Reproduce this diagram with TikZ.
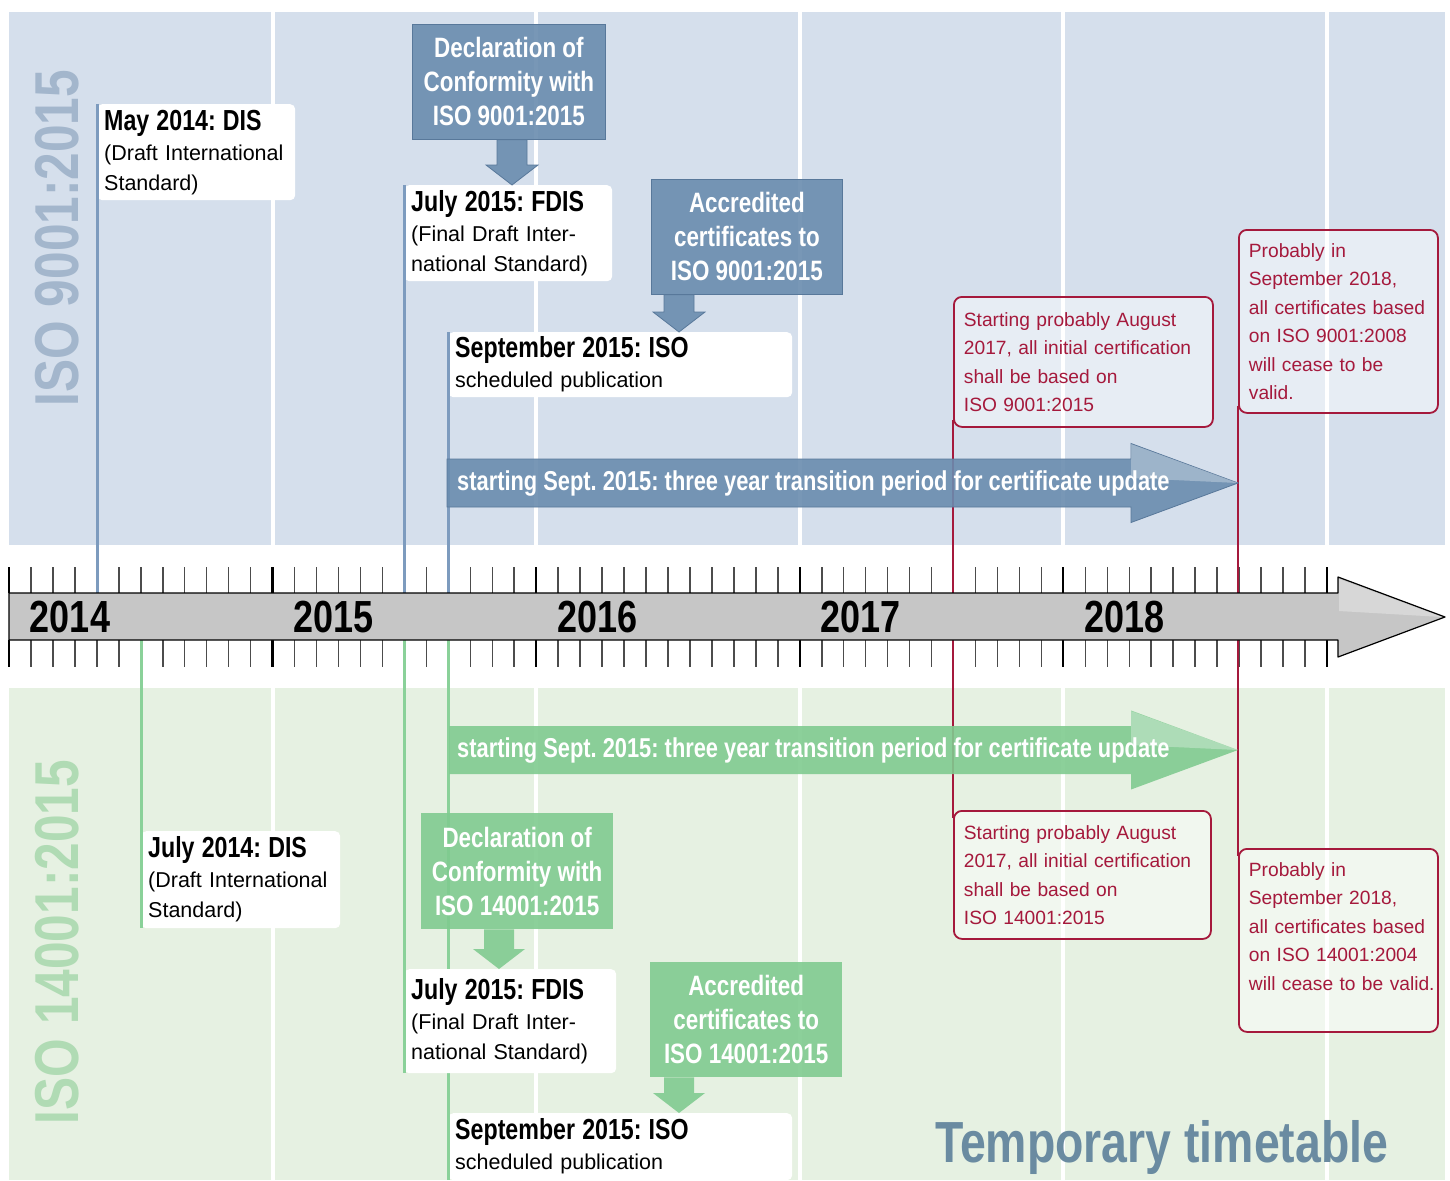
\documentclass[tikz,border=0pt]{standalone}
\usepackage{fontspec}
\setmainfont{Liberation Sans}
\newfontfamily\condfont[FakeStretch=0.8]{Liberation Sans}
\usepackage{tikz}
\usetikzlibrary{calc,positioning}
\frenchspacing

\definecolor{isoblue}{HTML}{6A8CAF}
\definecolor{isobluedark}{HTML}{58789A}
\definecolor{isoblueline}{HTML}{7D9BBE}
\definecolor{isobluebg}{HTML}{D5DFEC}
\definecolor{isobluelabel}{HTML}{A3B6CC}
\definecolor{isogreen}{HTML}{80CB90}
\definecolor{isogreenline}{HTML}{8AD199}
\definecolor{isogreenbg}{HTML}{E6F1E2}
\definecolor{isogreenlabel}{HTML}{B0DBB4}
\definecolor{isored}{HTML}{A5193C}
\definecolor{bargray}{HTML}{C6C6C6}
\definecolor{titleblue}{HTML}{6A8BA1}

\newcommand{\headline}[1]{{\condfont\bfseries\fontsize{29}{30}\selectfont #1}}

% arrow under a callout box: style, start point, end point
\newcommand{\callarrow}[3]{%
  \filldraw[#1] let \p1=(#2), \p2=(#3) in
    (\x1-15pt,\y1) -- (\x1-15pt,\y2+20pt) -- (\x1-26pt,\y2+20pt) -- (\x1,\y2)
    -- (\x1+26pt,\y2+20pt) -- (\x1+15pt,\y2+20pt) -- (\x1+15pt,\y1) -- cycle;}

% transition period arrow: style, start point, tip
\newcommand{\transarrow}[3]{%
  \filldraw[#1] let \p1=(#2), \p2=(#3) in
    (\x1,\y1+24pt) -- (\x2-107pt,\y1+24pt) -- (\x2-107pt,\y1+39.5pt) -- (\x2,\y1)
    -- (\x2-107pt,\y1-39.5pt) -- (\x2-107pt,\y1-24pt) -- (\x1,\y1-24pt) -- cycle;
  \fill[white, fill opacity=0.3] let \p1=(#2), \p2=(#3) in
    (\x2-107pt,\y1+39pt) -- (\x2,\y1) -- (\x2-107pt,\y1+5pt) -- cycle;}

\tikzset{
  evbox/.style={fill=white, rounded corners=5pt, anchor=north west, align=left,
    inner xsep=7pt, inner ysep=0pt, font=\fontsize{21.5}{30}\selectfont},
  callbox/.style={anchor=north west, align=center, inner sep=0pt, text=white,
    fill opacity=0.9, text opacity=1,
    font=\condfont\bfseries\fontsize{28}{34}\selectfont},
  redbox/.style={draw=isored, line width=1.8pt, fill=white, fill opacity=0.45,
    text opacity=1, rounded corners=8pt, anchor=north west, align=left,
    inner xsep=10pt, inner ysep=0pt, text=isored,
    font=\fontsize{19.2}{28.5}\selectfont},
  bluecall/.style={fill=isoblue, fill opacity=0.9, draw=isobluedark, line width=0.8pt},
  greencall/.style={fill=isogreen, fill opacity=0.9, draw=none},
  blueline/.style={draw=isoblueline, line width=3pt},
  greenline/.style={draw=isogreenline, line width=3pt},
  redline/.style={draw=isored, line width=1.8pt},
  monthtick/.style={draw=black!70, line width=1.5pt},
  yeartick/.style={draw=black, line width=2.2pt},
  gridline/.style={draw=white, line width=4pt},
  transtext/.style={anchor=west, inner sep=0pt, text=white,
    font=\condfont\bfseries\fontsize{27.3}{30}\selectfont},
  yearlabel/.style={inner sep=0pt, font=\condfont\bfseries\fontsize{45}{45}\selectfont},
  isolabel/.style={rotate=90, inner sep=0pt, font=\condfont\bfseries\fontsize{62}{62}\selectfont},
}

\begin{document}
\begin{tikzpicture}[x=1pt,y=-1pt]
  \useasboundingbox (0,0) rectangle (1450,1180);
  \fill[white] (0,0) rectangle (1450,1180);

  % panels and year grid
  \fill[isobluebg] (9,12) rectangle (1445,545);
  \fill[isogreenbg] (9,688) rectangle (1445,1180);
  \foreach \i in {12,24,36,48,60}
    \draw[gridline] (9+\i*21.966,12) -- (9+\i*21.966,545)
                    (9+\i*21.966,688) -- (9+\i*21.966,1180);

  \node[isolabel, text=isobluelabel] (isoA) at (57,238) {ISO 9001:2015};
  \node[isolabel, text=isogreenlabel] (isoG) at (57,942) {ISO 14001:2015};

  % month ticks
  \foreach \i in {0,...,60}
    \draw[monthtick] (9+\i*21.966,567) -- (9+\i*21.966,593)
                     (9+\i*21.966,640) -- (9+\i*21.966,667);
  \foreach \i in {0,12,...,60}
    \draw[yeartick] (9+\i*21.966,567) -- (9+\i*21.966,593)
                    (9+\i*21.966,640) -- (9+\i*21.966,667);
  \coordinate (bartop) at (9,593);
  \coordinate (barbot) at (9,640);

  % end of validity
  \node[redbox, minimum width=259pt, minimum height=130pt, text width=239pt] (augA) at (953,296)
    {Starting probably August\\2017, all initial certification\\shall be based on\\ISO 9001:2015};
  \node[redbox, minimum width=199pt, minimum height=183pt, text width=179pt] (sepA) at (1238,229)
    {Probably in\\September 2018,\\all certificates based\\on ISO 9001:2008\\will cease to be\\valid.};
  \node[redbox, minimum width=257pt, minimum height=128pt, text width=237pt] (augG) at (953,810)
    {Starting probably August\\2017, all initial certification\\shall be based on\\ISO 14001:2015};
  \node[redbox, minimum width=199pt, minimum height=183pt, text width=179pt] (sepG) at (1238,848)
    {Probably in\\September 2018,\\all certificates based\\on ISO 14001:2004\\\mbox{will cease to be valid.}\\\mbox{}};
  \draw[redline] ([yshift=8pt]augA.south west) -- ([yshift=-8pt]augG.north west);
  \draw[redline] ([yshift=8pt]sepA.south west) -- ([yshift=-8pt]sepG.north west);

  % ISO 9001 events
  \node[evbox, minimum width=198pt, minimum height=96pt, text width=184pt] (may14) at (97,104)
    {\headline{May 2014: DIS}\\(Draft International\\Standard)};
  \node[evbox, minimum width=208pt, minimum height=96pt, text width=194pt] (jul15) at (404,185)
    {\headline{July 2015: FDIS}\\(Final Draft Inter-\\national Standard)};
  \node[evbox, minimum width=344pt, minimum height=65pt, text width=330pt] (sep15) at (448,332)
    {\headline{September 2015: ISO}\\scheduled publication};
  \draw[blueline] (may14.north west) -- (may14.north west |- bartop);
  \draw[blueline] (jul15.north west) -- (jul15.north west |- bartop);
  \draw[blueline] (sep15.north west) -- (sep15.north west |- bartop);

  % ISO 14001 events
  \node[evbox, minimum width=344pt, minimum height=67pt, text width=330pt] (sep15g) at (448,1113)
    {\headline{September 2015: ISO}\\scheduled publication};
  \draw[greenline] (barbot -| sep15g.north west) -- (sep15g.south west);
  \node[evbox, minimum width=199pt, minimum height=97pt, text width=185pt] (jul14g) at (141,831)
    {\headline{July 2014: DIS}\\(Draft International\\Standard)};
  \node[evbox, minimum width=212pt, minimum height=104pt, text width=198pt] (jul15g) at (404,969)
    {\headline{July 2015: FDIS}\\(Final Draft Inter-\\national Standard)};
  \draw[greenline] (barbot -| jul14g.north west) -- (jul14g.south west);
  \draw[greenline] (barbot -| jul15g.north west) -- (jul15g.south west);

  % callouts
  \node[callbox, bluecall, minimum width=193pt, minimum height=115pt] (declA) at (412,24)
    {Declaration of\\Conformity with\\ISO 9001:2015};
  \node[callbox, bluecall, minimum width=191pt, minimum height=115pt] (accA) at (651,179)
    {Accredited\\certificates to\\ISO 9001:2015};
  \callarrow{bluecall}{$(declA.south west)+(100,0)$}{jul15.north}
  \callarrow{bluecall}{$(accA.south west)+(28,0)$}{sep15.north}
  \node[callbox, greencall, minimum width=192pt, minimum height=116pt] (declG) at (421,813)
    {Declaration of\\Conformity with\\ISO 14001:2015};
  \node[callbox, greencall, minimum width=192pt, minimum height=115pt] (accG) at (650,962)
    {Accredited\\certificates to\\ISO 14001:2015};
  \callarrow{greencall}{$(declG.south west)+(78,0)$}{jul15g.north}
  \callarrow{greencall}{$(accG.south west)+(29,0)$}{sep15g.north}

  % transition period
  \coordinate (tA) at (447,483);
  \coordinate (tG) at (449,750);
  \transarrow{bluecall}{tA}{sepA.south west}
  \transarrow{greencall}{tG}{sepG.south west}
  \node[transtext] (transA) at ([xshift=10pt]tA)
    {starting Sept. 2015: three year transition period for certificate update};
  \node[transtext] (transG) at ([xshift=8pt]tG)
    {starting Sept. 2015: three year transition period for certificate update};

  % time bar
  \filldraw[fill=bargray, draw=black, line width=1.2pt, line join=round]
    (bartop) -- (1338,593) -- (1338,577) -- (1445,617) -- (1338,657)
    -- (1338,640) -- (barbot) -- cycle;
  \fill[white, fill opacity=0.3] (1339,579) -- (1442,617) -- (1339,611) -- cycle;
  \foreach \y [count=\k from 0] in {2014,...,2018}
    \node[yearlabel] (y\y) at (70+\k*263.6,617) {\y};

  \node[anchor=base west, inner sep=0pt, text=titleblue,
    font=\condfont\bfseries\fontsize{58}{58}\selectfont] (title) at (935,1162) {Temporary timetable};
\end{tikzpicture}
\end{document}
